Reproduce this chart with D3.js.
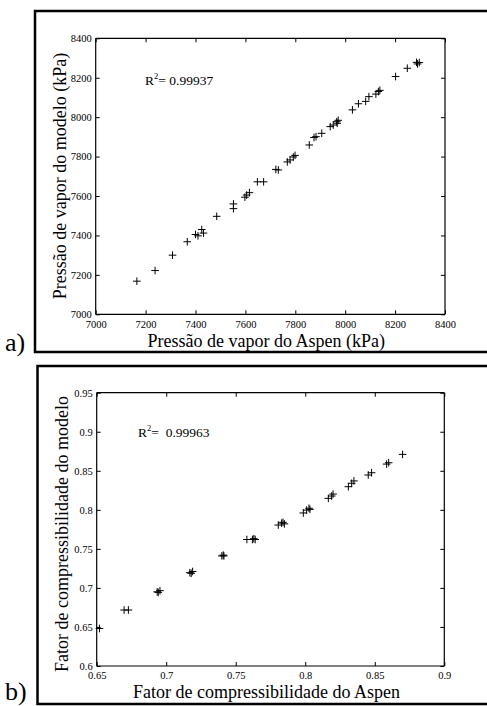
<!DOCTYPE html>
<html>
<head>
<meta charset="utf-8">
<script src="https://cdn.jsdelivr.net/npm/d3@7/dist/d3.min.js"></script>
<style>
  html, body { margin: 0; padding: 0; background: #fff; }
  svg { display: block; }
  text { font-family: "Liberation Serif", "Times New Roman", serif; fill: #000; }
</style>
</head>
<body>
<svg id="chart" width="487" height="706"></svg>
<script>
// ---- Panel a data: vapour pressure (kPa) ----
const aspenPressure = [7165, 7238, 7308, 7367, 7400, 7410, 7425, 7432, 7485, 7552, 7552,
  7598, 7605, 7616, 7648, 7673, 7722, 7732, 7768, 7779, 7792, 7799, 7856, 7875, 7883,
  7906, 7940, 7952, 7966, 7968, 7972, 8029, 8053, 8082, 8095, 8123, 8133, 8139,
  8202, 8249, 8286, 8290, 8297];
const modelPressure = [7168, 7222, 7300, 7368, 7405, 7398, 7430, 7412, 7497, 7560, 7536,
  7594, 7605, 7617, 7672, 7672, 7735, 7732, 7773, 7783, 7798, 7806, 7859, 7897, 7901,
  7918, 7952, 7960, 7977, 7969, 7984, 8037, 8068, 8080, 8104, 8117, 8130, 8136,
  8206, 8248, 8278, 8270, 8277];
const pressureTicks = [7000, 7200, 7400, 7600, 7800, 8000, 8200, 8400];

// ---- Panel b data: compressibility factor ----
const aspenZ = [0.652, 0.6697, 0.6728, 0.6935, 0.6943, 0.6955, 0.717, 0.718, 0.719,
  0.740, 0.741, 0.7415, 0.758, 0.762, 0.763, 0.764, 0.7806, 0.783, 0.784, 0.785,
  0.7986, 0.801, 0.8027, 0.8034, 0.8166, 0.819, 0.820, 0.831, 0.8334, 0.835,
  0.8453, 0.8477, 0.8585, 0.860, 0.870];
const modelZ = [0.648, 0.6717, 0.6717, 0.6950, 0.6943, 0.6965, 0.7195, 0.7187, 0.721,
  0.741, 0.742, 0.741, 0.762, 0.762, 0.763, 0.762, 0.7805, 0.783, 0.784, 0.782,
  0.796, 0.7997, 0.802, 0.8006, 0.8147, 0.8177, 0.8202, 0.8296, 0.834, 0.837,
  0.8446, 0.8475, 0.8586, 0.8603, 0.871];
const zTicksX = [0.65, 0.7, 0.75, 0.8, 0.85, 0.9];
const zTicksY = [0.6, 0.65, 0.7, 0.75, 0.8, 0.85, 0.9, 0.95];

const svg = d3.select("#chart");

function drawPanel(cfg) {
  const g = svg.append("g");
  // outer frame (extends beyond right edge)
  g.append("path")
    .attr("d", `M520,${cfg.box.top}H${cfg.box.left}V${cfg.box.bottom}H520`)
    .attr("fill", "none").attr("stroke", "#000").attr("stroke-width", 2.5);

  const x = d3.scaleLinear().domain(cfg.xDomain).range([cfg.plot.left, cfg.plot.right]);
  const y = d3.scaleLinear().domain(cfg.yDomain).range([cfg.plot.bottom, cfg.plot.top]);
  const fmt = cfg.fmt;

  const tickLen = 4;
  const axisB = d3.axisBottom(x).tickValues(cfg.xTicks).tickSize(-tickLen).tickPadding(6).tickFormat(fmt);
  const axisT = d3.axisTop(x).tickValues(cfg.xTicks).tickSize(-tickLen).tickFormat("");
  const axisL = d3.axisLeft(y).tickValues(cfg.yTicks).tickSize(-tickLen).tickPadding(4).tickFormat(fmt);
  const axisR = d3.axisRight(y).tickValues(cfg.yTicks).tickSize(-tickLen).tickFormat("");

  function styleAxis(sel) {
    sel.select(".domain").attr("stroke", "#000").attr("stroke-width", 1.2);
    sel.selectAll(".tick line").attr("stroke", "#000").attr("stroke-width", 1);
    sel.selectAll("text").attr("font-size", 10.5)
      .attr("font-family", '"Liberation Serif", "Times New Roman", serif').attr("fill", "#000");
  }
  g.append("g").attr("transform", `translate(0,${cfg.plot.bottom})`).call(axisB).call(styleAxis)
    .call(s => s.select(".domain").attr("d", `M${cfg.plot.left},0H${cfg.plot.right}`));
  g.append("g").attr("transform", `translate(0,${cfg.plot.top})`).call(axisT).call(styleAxis)
    .call(s => s.select(".domain").attr("d", `M${cfg.plot.left},0H${cfg.plot.right}`));
  g.append("g").attr("transform", `translate(${cfg.plot.left},0)`).call(axisL).call(styleAxis)
    .call(s => s.select(".domain").attr("d", `M0,${cfg.plot.bottom}V${cfg.plot.top}`));
  g.append("g").attr("transform", `translate(${cfg.plot.right},0)`).call(axisR).call(styleAxis)
    .call(s => s.select(".domain").attr("d", `M0,${cfg.plot.bottom}V${cfg.plot.top}`));

  // plus markers
  const s = 3.8;
  g.append("g").selectAll("path").data(cfg.xs).join("path")
    .attr("d", (d, i) => {
      const px = x(d), py = y(cfg.ys[i]);
      return `M${px - s},${py}H${px + s}M${px},${py - s}V${py + s}`;
    })
    .attr("stroke", "#000").attr("stroke-width", 1).attr("fill", "none");

  // R^2 annotation
  const r = g.append("text").attr("x", cfg.r2.x).attr("y", cfg.r2.y).attr("font-size", 13.5);
  r.append("tspan").text("R");
  r.append("tspan").attr("dy", -6).attr("font-size", 8.5).text("2");
  r.append("tspan").attr("dy", 6).text(cfg.r2.text);

  // axis titles
  g.append("text").attr("x", (cfg.plot.left + cfg.plot.right) / 2 - 4).attr("y", cfg.xTitleY)
    .attr("text-anchor", "middle").attr("font-size", 18).text(cfg.xTitle);
  g.append("text")
    .attr("transform", `translate(${cfg.yTitleX},${cfg.yTitleCY}) rotate(-90)`)
    .attr("text-anchor", "middle").attr("font-size", 18).text(cfg.yTitle);

  // panel label
  g.append("text").attr("x", 5).attr("y", cfg.labelY).attr("font-size", 26).text(cfg.label);
}

drawPanel({
  box: { left: 35, top: 11, bottom: 352 },
  plot: { left: 95.7, right: 445, top: 38.3, bottom: 314.3 },
  xDomain: [7000, 8400], yDomain: [7000, 8400],
  xTicks: pressureTicks, yTicks: pressureTicks,
  fmt: d3.format("d"),
  xs: aspenPressure, ys: modelPressure,
  r2: { x: 145, y: 85, text: "= 0.99937" },
  xTitle: "Pressão de vapor do Aspen (kPa)", xTitleY: 347,
  yTitle: "Pressão de vapor do modelo (kPa)", yTitleX: 66, yTitleCY: 176,
  label: "a)", labelY: 351
});

drawPanel({
  box: { left: 37.5, top: 366, bottom: 704 },
  plot: { left: 96.7, right: 444.3, top: 392.7, bottom: 666 },
  xDomain: [0.65, 0.9], yDomain: [0.6, 0.95],
  xTicks: zTicksX, yTicks: zTicksY,
  fmt: d => d3.format("")(+d.toFixed(2)),
  xs: aspenZ, ys: modelZ,
  r2: { x: 138, y: 437, text: "=\u00a0 0.99963" },
  xTitle: "Fator de compressibilidade do Aspen", xTitleY: 698,
  yTitle: "Fator de compressibilidade do modelo", yTitleX: 68, yTitleCY: 534,
  label: "b)", labelY: 700
});
</script>
</body>
</html>
